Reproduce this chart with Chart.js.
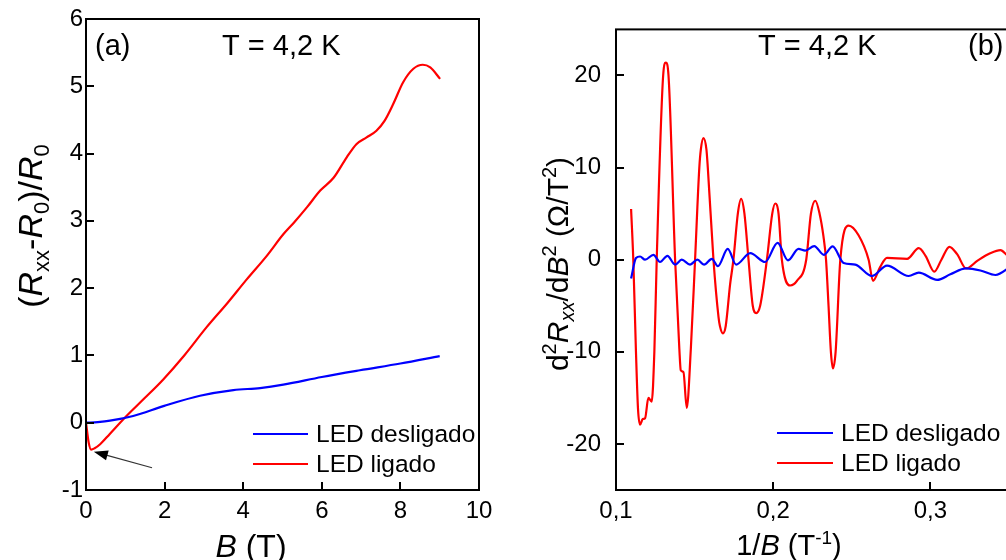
<!DOCTYPE html>
<html>
<head>
<meta charset="utf-8">
<script src="https://cdn.jsdelivr.net/npm/chart.js@4.4.1/dist/chart.umd.min.js"></script>
<style>
  html, body { margin: 0; padding: 0; background: #fff; overflow: hidden; width: 1006px; height: 560px; }
  #wrapA { position: absolute; left: 0; top: 0; width: 500px; height: 560px; }
  #wrapB { position: absolute; left: 500px; top: 0; width: 520px; height: 560px; }
</style>
</head>
<body>
<div id="wrapA"><canvas id="chartA" width="500" height="560"></canvas></div>
<div id="wrapB"><canvas id="chartB" width="520" height="560"></canvas></div>
<script>
// panel (a): magnetoresistance
const fieldOff = [0, 0.3, 0.61, 1.2, 1.99, 2.9, 3.75, 4.43, 5.02, 6.0, 6.97, 8.0, 9.0];
const mrOff    = [0, 0.01, 0.03, 0.10, 0.25, 0.40, 0.485, 0.515, 0.565, 0.68, 0.78, 0.88, 0.99];
const fieldOn  = [0, 0.07, 0.13, 0.22, 0.36, 0.6, 1.03, 1.5, 1.96, 2.5, 3.07, 3.6, 4.09, 4.6, 5.02, 5.3, 5.62, 5.96, 6.3, 6.63, 6.88, 7.14, 7.39, 7.6, 7.82, 8.07, 8.33, 8.57, 8.76, 9.01];
const mrOn     = [0, -0.3, -0.40, -0.38, -0.32, -0.17, 0.10, 0.37, 0.64, 1.0, 1.42, 1.78, 2.13, 2.48, 2.80, 2.98, 3.2, 3.45, 3.64, 3.94, 4.14, 4.24, 4.34, 4.49, 4.74, 5.06, 5.26, 5.32, 5.28, 5.11];

// panel (b): second derivative vs 1/B
const invBOff = [0.1096, 0.1127, 0.1153, 0.1185, 0.1238, 0.1280, 0.1327, 0.1376, 0.1418, 0.1471, 0.1518, 0.1560, 0.1610, 0.1648, 0.1711, 0.1764, 0.1854, 0.1949, 0.2028, 0.2094, 0.2161, 0.2204, 0.2261, 0.2322, 0.2378, 0.2448, 0.2522, 0.2628, 0.2724, 0.2862, 0.2926, 0.3043, 0.3127, 0.3227, 0.3318, 0.3414, 0.3484, 0.3500];
const d2Off   = [-2.05, 0.18, 0.35, 0, 0.53, -0.25, 0.42, -0.53, 0, -0.53, 0, -0.53, 0.1, -0.7, 1.17, -0.53, 0.71, -0.25, 1.83, -0.07, 1.17, 0.99, 1.48, 0.53, 1.45, -0.35, -0.53, -1.77, -0.64, -1.77, -1.41, -2.19, -1.59, -0.95, -1.17, -1.66, -1.06, -0.8];
const invBOn  = [0.1096, 0.1110, 0.1127, 0.1140, 0.1153, 0.1170, 0.1185, 0.1206, 0.1227, 0.1244, 0.1259, 0.1300, 0.1317, 0.1334, 0.1376, 0.1403, 0.1412, 0.1429, 0.1450, 0.1476, 0.1503, 0.1530, 0.1540, 0.1556, 0.1575, 0.1584, 0.1620, 0.1652, 0.1661, 0.1680, 0.1698, 0.1726, 0.1747, 0.1775, 0.1796, 0.1817, 0.1843, 0.1870, 0.1892, 0.1917, 0.1960, 0.1994, 0.2013, 0.2034, 0.2055, 0.2108, 0.2151, 0.2210, 0.2240, 0.2268, 0.2295, 0.2320, 0.2336, 0.2352, 0.2367, 0.2380, 0.2397, 0.2427, 0.2480, 0.2543, 0.2607, 0.2635, 0.2680, 0.2724, 0.2852, 0.2926, 0.2970, 0.3025, 0.3070, 0.3121, 0.3170, 0.3227, 0.3300, 0.3380, 0.3446, 0.3484, 0.3500];
const d2On    = [5.5, 0, -10, -16.2, -17.9, -17.3, -17.2, -15.0, -15.4, -10, 0, 20, 21.4, 20, 0, -9.7, -12.0, -12.2, -16.1, -9.7, 0, 10, 12, 13.2, 12, 10, 0, -6.2, -7.2, -8.0, -7.2, -2.65, 0, 5, 6.6, 5, 0, -5, -5.8, -5, 0, 5, 6.1, 5, 0, -2.8, -2.3, 0, 5, 6.4, 5, 2.5, 0, -5, -10, -11.8, -10, 0, 3.7, 2.65, 0, -2.3, -0.8, 0.2, 0.1, 1.25, 0.4, -1.3, 0, 1.4, 0.6, -0.95, -0.1, 0.7, 1.05, 0.55, 0.3];

const ticksAx = [0, 2, 4, 6, 8, 10];
const ticksAy = [-1, 0, 1, 2, 3, 4, 5, 6];
const ticksBx = [0.1, 0.2, 0.3];
const ticksBy = [-20, -10, 0, 10, 20];

const seriesNames = ['LED desligado', 'LED ligado'];
const tempLabel = 'T = 4,2 K';

const FONT = '"Liberation Sans", Arial, sans-serif';
const BLUE = '#0000ff';
const RED = '#ff0000';

function pts(xs, ys) { return xs.map((x, i) => ({ x: x, y: ys[i] })); }

function fontFor(p, size) {
  const s = (p.sub || p.sup) ? size * 0.66 : size;
  return (p.it ? 'italic ' : '') + Math.round(s) + 'px ' + FONT;
}

// draws text made of normal / italic / sub / sup pieces, centred on (cx, cy)
function drawRich(ctx, parts, cx, cy, size, rotate) {
  ctx.save();
  ctx.translate(cx, cy);
  if (rotate) ctx.rotate(-Math.PI / 2);
  let total = 0;
  parts.forEach(p => { ctx.font = fontFor(p, size); total += ctx.measureText(p.t).width; });
  let x = -total / 2;
  ctx.textBaseline = 'alphabetic';
  ctx.textAlign = 'left';
  ctx.fillStyle = '#000';
  const base = size * 0.36;
  parts.forEach(p => {
    ctx.font = fontFor(p, size);
    let dy = base;
    if (p.sub) dy += size * 0.2;
    if (p.sup) dy -= size * 0.4;
    ctx.fillText(p.t, x, dy);
    x += ctx.measureText(p.t).width;
  });
  ctx.restore();
}

const deco = {
  id: 'deco',
  afterDatasetsDraw(chart, args, opts) {
    const ctx = chart.ctx;
    const a = chart.chartArea;
    const sx = chart.scales.x, sy = chart.scales.y;
    ctx.save();
    // frame
    ctx.strokeStyle = '#000';
    ctx.lineWidth = 2;
    ctx.strokeRect(a.left, a.top, a.right - a.left, a.bottom - a.top);
    // inward ticks
    ctx.beginPath();
    sx.ticks.forEach(t => {
      const px = Math.round(sx.getPixelForValue(t.value));
      ctx.moveTo(px, a.bottom); ctx.lineTo(px, a.bottom - 8);
    });
    sy.ticks.forEach(t => {
      const py = Math.round(sy.getPixelForValue(t.value));
      ctx.moveTo(a.left, py); ctx.lineTo(a.left + 8, py);
    });
    ctx.stroke();

    // axis titles
    drawRich(ctx, opts.xTitle, opts.xTitlePos[0], opts.xTitlePos[1], opts.xTitleSize, false);
    drawRich(ctx, opts.yTitle, opts.yTitlePos[0], opts.yTitlePos[1], opts.yTitleSize, true);

    // text labels
    ctx.fillStyle = '#000';
    ctx.textBaseline = 'middle';
    ctx.textAlign = 'left';
    ctx.font = '29px ' + FONT;
    opts.labels.forEach(l => ctx.fillText(l.t, l.x, l.y));

    // legend
    ctx.font = '24.5px ' + FONT;
    chart.data.datasets.forEach((ds, i) => {
      const y = opts.legend.y + i * 30;
      ctx.strokeStyle = ds.borderColor;
      ctx.lineWidth = 2;
      ctx.beginPath();
      ctx.moveTo(opts.legend.x0, y); ctx.lineTo(opts.legend.x1, y);
      ctx.stroke();
      ctx.fillText(ds.label, opts.legend.tx, y + 1);
    });

    // arrow
    if (opts.arrow) {
      const x0 = sx.getPixelForValue(opts.arrow[0]), y0 = sy.getPixelForValue(opts.arrow[1]);
      const x1 = sx.getPixelForValue(opts.arrow[2]), y1 = sy.getPixelForValue(opts.arrow[3]);
      const ang = Math.atan2(y1 - y0, x1 - x0);
      ctx.strokeStyle = '#333';
      ctx.fillStyle = '#000';
      ctx.lineWidth = 1.2;
      ctx.beginPath();
      ctx.moveTo(x0, y0);
      ctx.lineTo(x1 - 10 * Math.cos(ang), y1 - 10 * Math.sin(ang));
      ctx.stroke();
      ctx.beginPath();
      ctx.moveTo(x1, y1);
      ctx.lineTo(x1 - 14 * Math.cos(ang) + 5 * Math.sin(ang), y1 - 14 * Math.sin(ang) - 5 * Math.cos(ang));
      ctx.lineTo(x1 - 14 * Math.cos(ang) - 5 * Math.sin(ang), y1 - 14 * Math.sin(ang) + 5 * Math.cos(ang));
      ctx.closePath();
      ctx.fill();
    }
    ctx.restore();
  }
};

function lineSet(label, data, color) {
  return {
    label: label,
    data: data,
    borderColor: color,
    backgroundColor: color,
    borderWidth: 2.2,
    pointRadius: 0,
    cubicInterpolationMode: 'monotone',
    fill: false
  };
}

function axis(min, max, tickList, fmt, size, isY, pad) {
  return {
    type: 'linear',
    min: min,
    max: max,
    grid: { display: false, drawTicks: false },
    border: { display: false },
    afterBuildTicks: s => { s.ticks = tickList.map(v => ({ value: v })); },
    afterFit: s => { if (isY) s.width = size; else s.height = size; },
    ticks: {
      autoSkip: false,
      maxRotation: 0,
      padding: pad,
      color: '#000',
      font: { family: FONT, size: 24 },
      callback: fmt
    }
  };
}

const fmtComma = v => String(Math.round(v * 10) / 10).replace('.', ',');

new Chart(document.getElementById('chartA'), {
  type: 'line',
  data: {
    datasets: [
      lineSet(seriesNames[0], pts(fieldOff, mrOff), BLUE),
      lineSet(seriesNames[1], pts(fieldOn, mrOn), RED)
    ]
  },
  options: {
    responsive: false,
    animation: false,
    layout: { padding: { left: 0, right: 21, top: 19, bottom: 0 } },
    scales: {
      x: axis(0, 10, ticksAx, v => String(v), 70, false, 7),
      y: axis(-1, 6, ticksAy, v => String(v), 86, true, 3)
    },
    plugins: {
      legend: { display: false },
      tooltip: { enabled: false },
      deco: {
        xTitle: [{ t: 'B', it: true }, { t: ' (T)' }],
        xTitlePos: [251, 545],
        xTitleSize: 32,
        yTitle: [{ t: '(' }, { t: 'R', it: true }, { t: 'xx', sub: true }, { t: '-' }, { t: 'R', it: true }, { t: '0', sub: true }, { t: ')/' }, { t: 'R', it: true }, { t: '0', sub: true }],
        yTitlePos: [30, 226],
        yTitleSize: 34,
        labels: [{ t: '(a)', x: 95, y: 47 }, { t: tempLabel, x: 222, y: 47 }],
        legend: { x0: 253, x1: 308, tx: 316, y: 434 },
        arrow: [1.68, -0.67, 0.2, -0.43]
      }
    }
  },
  plugins: [deco]
});

new Chart(document.getElementById('chartB'), {
  type: 'line',
  data: {
    datasets: [
      lineSet(seriesNames[0], pts(invBOff, d2Off), BLUE),
      lineSet(seriesNames[1], pts(invBOn, d2On), RED)
    ]
  },
  options: {
    responsive: false,
    animation: false,
    layout: { padding: { left: 0, right: 11, top: 19, bottom: 0 } },
    scales: {
      x: axis(0.1, 0.35, ticksBx, fmtComma, 70, false, 7),
      y: axis(-25, 25, ticksBy, v => String(v), 116, true, 15)
    },
    plugins: {
      legend: { display: false },
      tooltip: { enabled: false },
      deco: {
        xTitle: [{ t: '1/' }, { t: 'B', it: true }, { t: ' (T' }, { t: '-1', sup: true }, { t: ')' }],
        xTitlePos: [289, 545],
        xTitleSize: 29,
        yTitle: [{ t: 'd' }, { t: '2', sup: true }, { t: 'R', it: true }, { t: 'xx', sub: true, it: true }, { t: '/d' }, { t: 'B', it: true }, { t: '2', sup: true }, { t: ' (\u03A9/T' }, { t: '2', sup: true }, { t: ')' }],
        yTitlePos: [57, 264],
        yTitleSize: 30,
        labels: [{ t: tempLabel, x: 258, y: 47 }, { t: '(b)', x: 468, y: 47 }],
        legend: { x0: 277, x1: 333, tx: 341, y: 433 }
      }
    }
  },
  plugins: [deco]
});
</script>
</body>
</html>
